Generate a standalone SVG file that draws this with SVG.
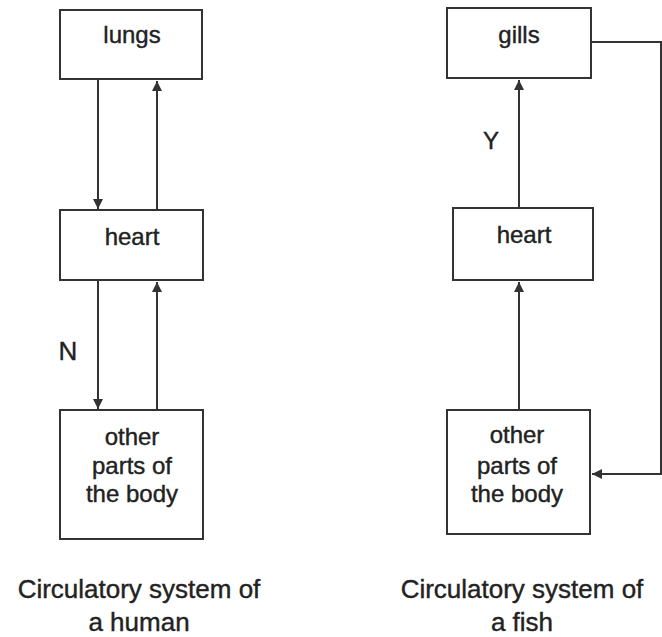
<svg xmlns="http://www.w3.org/2000/svg" width="662" height="637" viewBox="0 0 662 637">
<style>
.box{fill:#fff;stroke:#333;stroke-width:2}
.t{font-family:"Liberation Sans",Arial,sans-serif;font-size:24px;fill:#222;text-anchor:middle;stroke:#222;stroke-width:0.4}
.cap{font-size:26px}
.c{stroke:#333;stroke-width:2;fill:none}
</style>
<defs>
<marker id="ah" viewBox="0 0 10 10" refX="10" refY="5" markerWidth="11" markerHeight="10" orient="auto" markerUnits="userSpaceOnUse">
<path d="M0,0 L10,5 L0,10 z" fill="#333"/>
</marker>
</defs>
<rect width="662" height="637" fill="#fff"/>
<g id="connectors">
<line class="c" x1="98" y1="80" x2="98" y2="209" marker-end="url(#ah)"/>
<line class="c" x1="157" y1="210" x2="157" y2="81" marker-end="url(#ah)"/>
<line class="c" x1="98" y1="281" x2="98" y2="409" marker-end="url(#ah)"/>
<line class="c" x1="157" y1="410" x2="157" y2="282" marker-end="url(#ah)"/>
<line class="c" x1="519" y1="208" x2="519" y2="80" marker-end="url(#ah)"/>
<line class="c" x1="519" y1="410" x2="519" y2="282" marker-end="url(#ah)"/>
<polyline class="c" points="592,42 661,42 661,474 592,474" marker-end="url(#ah)"/>
<text class="t" x="68" y="360" style="font-size:26px">N</text>
<text class="t" x="491" y="149" style="font-size:24px">Y</text>
</g>
<g id="lungs"><rect class="box" x="60" y="10" width="142" height="69"/><text class="t" x="132" y="43">lungs</text></g>
<g id="heart-human"><rect class="box" x="60" y="210" width="143" height="70"/><text class="t" x="132" y="245">heart</text></g>
<g id="body-human"><rect class="box" x="60" y="410" width="143" height="129"/>
<text class="t" x="132" y="445">other</text><text class="t" x="132" y="474">parts of</text><text class="t" x="132" y="502">the body</text></g>
<g id="gills"><rect class="box" x="447" y="8" width="144" height="70"/><text class="t" x="519" y="43">gills</text></g>
<g id="heart-fish"><rect class="box" x="453" y="208" width="140" height="72"/><text class="t" x="524" y="243">heart</text></g>
<g id="body-fish"><rect class="box" x="447" y="410" width="143" height="124"/>
<text class="t" x="517" y="443">other</text><text class="t" x="517" y="474">parts of</text><text class="t" x="517" y="502">the body</text></g>
<g id="captions">
<text class="t cap" x="139" y="598">Circulatory system of</text><text class="t cap" x="139" y="631">a human</text>
<text class="t cap" x="522" y="598">Circulatory system of</text><text class="t cap" x="522" y="631">a fish</text>
</g>
</svg>
